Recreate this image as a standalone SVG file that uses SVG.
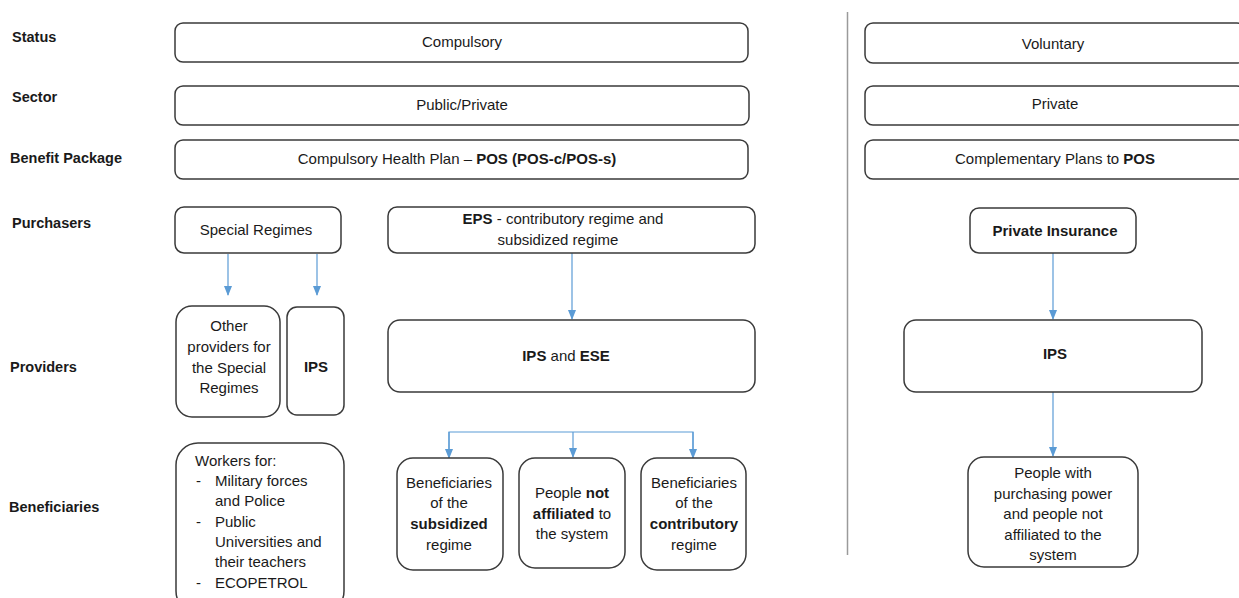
<svg xmlns="http://www.w3.org/2000/svg" width="1239" height="598" viewBox="0 0 1239 598">
<style>
text{font-family:"Liberation Sans",Arial,sans-serif;font-size:15px;fill:#1a1a1a}
.c{text-anchor:middle}
.b{font-weight:bold}
.lab{font-weight:bold;font-size:14.5px}
rect.n{fill:#fff;stroke:#3a3a3a;stroke-width:1.5}
.con{stroke:#5b9bd5;stroke-width:1.2;fill:none}
</style>
<defs>
<marker id="ah" markerWidth="10" markerHeight="8" refX="9" refY="4" orient="auto" markerUnits="userSpaceOnUse">
<path d="M0,0 L10,4 L0,8 Z" fill="#5b9bd5"/>
</marker>
</defs>
<rect width="1239" height="598" fill="#fff"/>
<g id="labels">
<text class="lab" x="12" y="42">Status</text>
<text class="lab" x="12" y="102">Sector</text>
<text class="lab" x="10" y="163">Benefit Package</text>
<text class="lab" x="12" y="228">Purchasers</text>
<text class="lab" x="10" y="372">Providers</text>
<text class="lab" x="9" y="512">Beneficiaries</text>
</g>
<line x1="847.5" y1="12" x2="847.5" y2="555" stroke="#9a9a9a" stroke-width="1.5"/>
<g id="connectors">
<path class="con" d="M228,254 V295" marker-end="url(#ah)"/>
<path class="con" d="M317,254 V295" marker-end="url(#ah)"/>
<path class="con" d="M572,253 V319" marker-end="url(#ah)"/>
<path class="con" d="M449,458 V432 H693 V458" />
<path class="con" d="M449,432 V458" marker-end="url(#ah)"/>
<path class="con" d="M573,432 V457" marker-end="url(#ah)"/>
<path class="con" d="M693,432 V458" marker-end="url(#ah)"/>
<path class="con" d="M1053,253 V319" marker-end="url(#ah)"/>
<path class="con" d="M1053,392 V456" marker-end="url(#ah)"/>
</g>
<g id="status-compulsory"><rect class="n" x="175" y="23" width="573" height="39" rx="8"/><text class="c" x="462" y="47">Compulsory</text></g>
<g id="sector-public"><rect class="n" x="175" y="86" width="574" height="39" rx="8"/><text class="c" x="462" y="110">Public/Private</text></g>
<g id="benefit-pos"><rect class="n" x="175" y="140" width="573" height="39" rx="8"/><text class="c" x="457" y="164">Compulsory Health Plan – <tspan class="b">POS (POS-c/POS-s)</tspan></text></g>
<g id="status-voluntary"><rect class="n" x="865" y="23" width="380" height="40" rx="8"/><text class="c" x="1053" y="49">Voluntary</text></g>
<g id="sector-private"><rect class="n" x="865" y="86" width="380" height="39" rx="8"/><text class="c" x="1055" y="109">Private</text></g>
<g id="benefit-complementary"><rect class="n" x="865" y="140" width="380" height="39" rx="8"/><text class="c" x="1055" y="164">Complementary Plans to <tspan class="b">POS</tspan></text></g>
<g id="special-regimes"><rect class="n" x="175" y="207" width="166" height="46" rx="9"/><text class="c" x="256" y="235">Special Regimes</text></g>
<g id="eps"><rect class="n" x="388" y="207" width="367" height="46" rx="9"/><text class="c" x="563" y="224"><tspan class="b">EPS</tspan> - contributory regime and</text><text class="c" x="558" y="245">subsidized regime</text></g>
<g id="private-insurance"><rect class="n" x="970" y="208" width="166" height="45" rx="9"/><text class="c b" x="1055" y="236">Private Insurance</text></g>
<g id="other-providers"><rect class="n" x="176" y="306" width="104" height="111" rx="16"/><text class="c" x="229" y="331">Other</text><text class="c" x="229" y="352">providers for</text><text class="c" x="229" y="373">the Special</text><text class="c" x="229" y="393">Regimes</text></g>
<g id="ips-special"><rect class="n" x="287" y="307" width="57" height="108" rx="10"/><text class="c b" x="316" y="372">IPS</text></g>
<g id="ips-ese"><rect class="n" x="388" y="320" width="367" height="72" rx="12"/><text class="c" x="566" y="361"><tspan class="b">IPS</tspan> and <tspan class="b">ESE</tspan></text></g>
<g id="ips-private"><rect class="n" x="904" y="320" width="298" height="72" rx="12"/><text class="c b" x="1055" y="359">IPS</text></g>
<g id="people-purchasing"><rect class="n" x="968" y="457" width="170" height="110" rx="16"/><text class="c" x="1053" y="478">People with</text><text class="c" x="1053" y="499">purchasing power</text><text class="c" x="1053" y="519">and people not</text><text class="c" x="1053" y="540">affiliated to the</text><text class="c" x="1053" y="560">system</text></g>
<g id="workers"><rect class="n" x="176" y="443" width="168" height="170" rx="22"/><text x="195" y="466">Workers for:</text><text x="196" y="486">-</text><text x="215" y="486">Military forces</text><text x="215" y="506">and Police</text><text x="196" y="527">-</text><text x="215" y="527">Public</text><text x="215" y="547">Universities and</text><text x="215" y="567">their teachers</text><text x="196" y="588">-</text><text x="215" y="588">ECOPETROL</text></g>
<g id="subsidized"><rect class="n" x="397" y="458" width="106" height="112" rx="16"/><text class="c" x="449" y="488">Beneficiaries</text><text class="c" x="449" y="508">of the</text><text class="c b" x="449" y="529">subsidized</text><text class="c" x="449" y="550">regime</text></g>
<g id="not-affiliated"><rect class="n" x="519" y="458" width="106" height="110" rx="16"/><text class="c" x="572" y="498">People <tspan class="b">not</tspan></text><text class="c" x="572" y="519"><tspan class="b">affiliated</tspan> to</text><text class="c" x="572" y="539">the system</text></g>
<g id="contributory"><rect class="n" x="641" y="458" width="105" height="112" rx="16"/><text class="c" x="694" y="488">Beneficiaries</text><text class="c" x="694" y="508">of the</text><text class="c b" x="694" y="529">contributory</text><text class="c" x="694" y="550">regime</text></g>
</svg>
